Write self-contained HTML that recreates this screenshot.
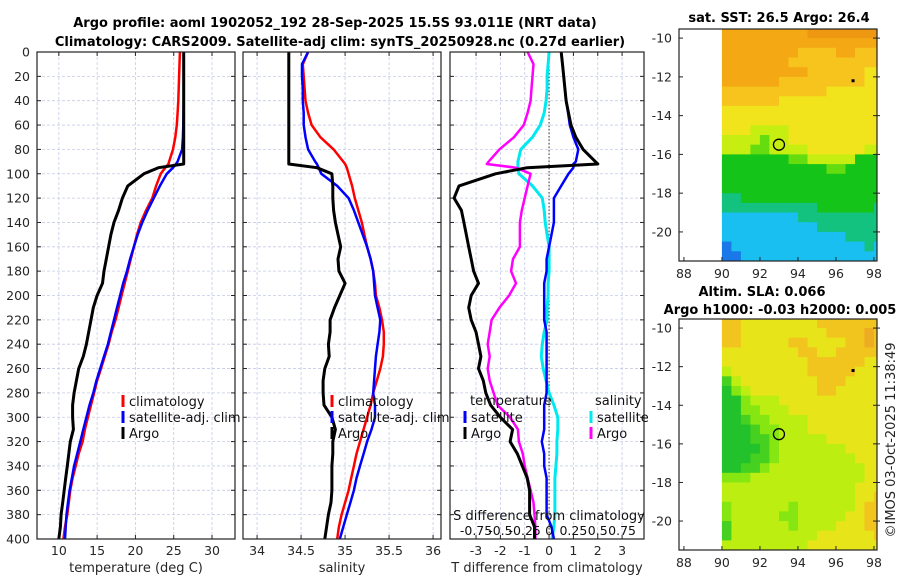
<!DOCTYPE html>
<html><head><meta charset="utf-8">
<style>
html,body{margin:0;padding:0;background:#fff;}
svg{display:block;font-family:"DejaVu Sans","Liberation Sans",sans-serif;}
</style></head>
<body>
<svg id="fig" width="900" height="580" viewBox="0 0 900 580" xmlns="http://www.w3.org/2000/svg">
<text x="335" y="27" font-size="13" font-weight="bold" text-anchor="middle" fill="#000">Argo profile: aoml 1902052_192 28-Sep-2025 15.5S 93.011E (NRT data)</text>
<text x="340" y="46" font-size="13" font-weight="bold" text-anchor="middle" fill="#000">Climatology: CARS2009. Satellite-adj clim: synTS_20250928.nc (0.27d earlier)</text>
<text x="779" y="22" font-size="13" font-weight="bold" text-anchor="middle" fill="#000">sat. SST: 26.5 Argo: 26.4</text>
<text x="762" y="296" font-size="13" font-weight="bold" text-anchor="middle" fill="#000">Altim. SLA: 0.066</text>
<text x="780" y="314" font-size="13" font-weight="bold" text-anchor="middle" fill="#000">Argo h1000: -0.03 h2000: 0.005</text>
<text x="0" y="0" font-size="13" fill="#222" text-anchor="middle" transform="translate(895,440) rotate(-90)">©IMOS 03-Oct-2025 11:38:49</text>
</svg>
<script>
// ---- profile data ----
const depths = [0,10,20,30,40,50,60,70,80,90,92,95,100,110,120,130,140,150,160,170,180,190,200,210,220,230,240,250,260,270,280,290,300,310,320,330,340,350,360,370,380,390,400];
const argoT = [26.3,26.3,26.3,26.3,26.3,26.3,26.3,26.3,26.3,26.3,26.3,23.0,21.1,19.0,18.3,17.8,17.2,16.8,16.5,16.2,15.9,15.7,15.0,14.5,14.2,13.9,13.6,13.2,12.6,12.3,12.0,11.8,11.8,11.9,11.5,11.3,11.1,10.9,10.7,10.5,10.3,10.2,10.0];
const climT = [25.8,25.75,25.7,25.65,25.6,25.5,25.4,25.2,24.9,24.4,24.3,23.9,23.3,22.7,22.2,21.4,20.7,20.2,19.8,19.4,19.0,18.6,18.2,17.8,17.4,16.9,16.5,16.0,15.5,15.0,14.6,14.2,13.8,13.4,13.1,12.6,12.2,11.8,11.5,11.3,11.1,10.8,10.6];
const satT = [26.3,26.3,26.3,26.3,26.3,26.28,26.25,26.2,26.1,25.5,25.3,24.9,24.1,23.2,22.4,21.6,20.9,20.3,19.8,19.3,18.9,18.4,18.0,17.6,17.2,16.8,16.4,15.9,15.4,14.9,14.5,14.0,13.6,13.2,12.8,12.4,12.0,11.7,11.4,11.2,11.0,10.9,10.8];
const argoS = [34.36,34.36,34.36,34.36,34.36,34.36,34.36,34.36,34.36,34.36,34.36,34.68,34.85,34.86,34.86,34.87,34.89,34.92,34.95,34.92,34.93,35.0,34.94,34.88,34.83,34.83,34.81,34.82,34.77,34.75,34.75,34.76,34.85,34.89,34.86,34.86,34.85,34.85,34.85,34.84,34.81,34.79,34.77];
const climS = [34.58,34.52,34.53,34.54,34.55,34.58,34.62,34.72,34.87,34.98,35.0,35.02,35.04,35.08,35.11,35.15,35.19,35.22,35.25,35.29,35.32,35.34,35.35,35.39,35.42,35.44,35.44,35.43,35.40,35.36,35.32,35.29,35.25,35.21,35.17,35.13,35.10,35.07,35.04,35.00,34.96,34.93,34.91];
const satS = [34.58,34.51,34.51,34.52,34.52,34.53,34.53,34.55,34.58,34.66,34.68,34.70,34.73,34.91,35.04,35.10,35.15,35.20,35.25,35.29,35.32,35.33,35.34,35.37,35.40,35.39,35.37,35.35,35.34,35.33,35.32,35.34,35.34,35.30,35.25,35.21,35.17,35.13,35.10,35.06,35.02,34.98,34.94];
const depthTicks = [0,20,40,60,80,100,120,140,160,180,200,220,240,260,280,300,320,340,360,380,400];
const tempTicks = [10,15,20,25,30];
const salTicks = [34,34.5,35,35.5,36];
const diffTicks = [-3,-2,-1,0,1,2,3];
const sDiffTickLabels = ["-0.75","-0.5","-0.25","0","0.25","0.5","0.75"];
// ---- map data (levels per 0.5deg cell, rows from -9.5 southward, cols from 90E) ----
const sstRows = ["88888888899999999","88888888888888888","88888888777788777","88888887777777777","88888888877777766","88888877777777766","77777777777666666","77777766666666666","66666666666666666","66666666666666666","66655556666666666","55554556666666666","55544555566666655","33333334455555333","33333333333443333","33333333333333333","33333333333333333","22333333333333333","22222222223333332","11111111222222222","11111111112222222","11111111111112222","01111111111111121","00111111111111111"];
const slaRows = ["77666666667777777","77666666666777787","77666667766667787","66666666776677777","66666666677777766","56666666677777666","35666666667776666","24566666667766666","22455566666666666","22445556666666666","22344555566666666","22234455566666666","22233455555666666","22223455555556666","22233455555555666","22334555555555566","44455555555555566","55555555555555666","55555555555555667","45555554555555677","45555544555556677","35555554555566677","35555555556666667","55555555566666666"];
const sstPalette = ["#1a78e8","#18bff0","#12c27e","#14c418","#64dc10","#c6ee10","#f2e41c","#f6c41c","#f4a914","#ee9812"];
const slaPalette = ["#18c030","#18c030","#22c22c","#46d020","#86e612","#bcee12","#e8e41a","#f2c41e","#eeac22","#eeac22"];
const mapLonTicks = [88,90,92,94,96,98];
const mapLatTicks = [-10,-12,-14,-16,-18,-20];
const argoLon = 93.0, argoLat = -15.5;
const dotLon = 96.9, dotLat = -12.2;

const NS="http://www.w3.org/2000/svg";
const svg=document.getElementById('fig');
function mk(tag, attrs, parent){const e=document.createElementNS(NS,tag);for(const k in attrs)e.setAttribute(k,attrs[k]);(parent||svg).appendChild(e);return e;}

const TOP=52, BOT=539;
const yD = d => TOP + d*(BOT-TOP)/400;
function xScale(x0,x1,mn,mx){return v => x0 + (v-mn)*(x1-x0)/(mx-mn);}

const panels = [
 {key:'temperature', x0:37, x1:235, mn:7.15, mx:33.0, ticks:tempTicks, labels:tempTicks.map(String), xlabel:'temperature (deg C)'},
 {key:'salinity', x0:243, x1:441, mn:33.84, mx:36.09, ticks:salTicks, labels:salTicks.map(String), xlabel:'salinity'},
 {key:'difference', x0:450, x1:644, mn:-4.07, mx:3.9, ticks:diffTicks, labels:diffTicks.map(String), xlabel:'T difference from climatology'}
];
panels.forEach((p,pi)=>{
  p.sx = xScale(p.x0,p.x1,p.mn,p.mx);
  const g=mk('g',{});
  
  
  // grid
  p.ticks.forEach(t=>{
    const l=mk('line',{x1:p.sx(t),x2:p.sx(t),y1:TOP,y2:BOT,stroke:'#c6cbe6','stroke-width':0.8,'stroke-dasharray':'3,2'},g);
    
    
  });
  depthTicks.forEach(d=>{
    const l=mk('line',{x1:p.x0,x2:p.x1,y1:yD(d),y2:yD(d),stroke:'#c6cbe6','stroke-width':0.8,'stroke-dasharray':'3,2'},g);
    
    
    const a=mk('line',{x1:p.x0,x2:p.x0+4,y1:yD(d),y2:yD(d),stroke:'#222','stroke-width':1},g);
    
    
    const b=mk('line',{x1:p.x1-4,x2:p.x1,y1:yD(d),y2:yD(d),stroke:'#222','stroke-width':1},g);
    
    
    if(pi===0){
      const t=mk('text',{x:30,y:yD(d)+4.5,'font-size':12.5,'text-anchor':'end',fill:'#262626'},g);
      t.textContent=String(d);
      
      
    }
  });
  p.ticks.forEach((t,i)=>{
    const a=mk('line',{x1:p.sx(t),x2:p.sx(t),y1:BOT-4,y2:BOT,stroke:'#222'},g);
    
    
    const b=mk('line',{x1:p.sx(t),x2:p.sx(t),y1:TOP,y2:TOP+4,stroke:'#222'},g);
    
    
    const tx=mk('text',{x:p.sx(t),y:555,'font-size':12.5,'text-anchor':'middle',fill:'#262626'},g);
    tx.textContent=p.labels[i];
    
    
  });
  const xl=mk('text',{x:(p.x0+p.x1)/2,y:572,'font-size':13,'text-anchor':'middle',fill:'#262626'},g);
  xl.textContent=p.xlabel;
  
  
  p.g=g;
});

function series(p, xs, color, w, name){
  const pts=depths.map((d,i)=>p.sx(xs[i]).toFixed(1)+','+yD(d).toFixed(1)).join(' ');
  const l=mk('polyline',{points:pts,fill:'none',stroke:color,'stroke-width':w,'stroke-linejoin':'round'},p.g);
  
  
}
// panel 1
series(panels[0], climT, '#ff0000', 2.5, 'climatology-temperature-line');
series(panels[0], satT, '#0000ff', 2.5, 'satellite-temperature-line');
series(panels[0], argoT, '#000000', 3, 'argo-temperature-line');
// panel 2
series(panels[1], climS, '#ff0000', 2.5, 'climatology-salinity-line');
series(panels[1], satS, '#0000ff', 2.5, 'satellite-salinity-line');
series(panels[1], argoS, '#000000', 3, 'argo-salinity-line');
// panel 3 differences (salinity scaled by 4 onto T axis)
const zl=mk('line',{x1:panels[2].sx(0),x2:panels[2].sx(0),y1:TOP,y2:BOT,stroke:'#333','stroke-width':1,'stroke-dasharray':'1.5,2'},panels[2].g);


series(panels[2], satS.map((v,i)=>(v-climS[i])*4), '#00e8f0', 3, 'satellite-salinity-diff-line');
series(panels[2], argoS.map((v,i)=>(v-climS[i])*4), '#ff00ff', 2.5, 'argo-salinity-diff-line');
series(panels[2], satT.map((v,i)=>v-climT[i]), '#0000ff', 2.5, 'satellite-temperature-diff-line');
series(panels[2], argoT.map((v,i)=>v-climT[i]), '#000000', 3, 'argo-temperature-diff-line');
// S diff axis text
const sdt=mk('text',{x:549,y:520,'font-size':13,'text-anchor':'middle',fill:'#111'},panels[2].g);
sdt.textContent='S difference from climatology';


diffTicks.forEach((t,i)=>{
  const e=mk('text',{x:panels[2].sx(t),y:535,'font-size':12.5,'text-anchor':'middle',fill:'#111'},panels[2].g);
  e.textContent=sDiffTickLabels[i];
  
  
});
// frames
panels.forEach(p=>{
  const r=mk('rect',{x:p.x0,y:TOP,width:p.x1-p.x0,height:BOT-TOP,fill:'none',stroke:'#222','stroke-width':1.2},p.g);
  
  
});
// legends
function legend(x,y,color,label,name){
  const m=mk('line',{x1:x,x2:x,y1:y-6,y2:y+6,stroke:color,'stroke-width':3});
  
  
  const t=mk('text',{x:x+6,y:y+5,'font-size':13,fill:'#111'});
  t.textContent=label;
  
  
}
legend(123,401,'#ff0000','climatology','legend-climatology');
legend(123,417,'#0000ff','satellite-adj. clim','legend-satellite');
legend(123,433,'#000000','Argo','legend-argo');
legend(332,401,'#ff0000','climatology','legend2-climatology');
legend(332,417,'#0000ff','satellite-adj. clim','legend2-satellite');
legend(332,433,'#000000','Argo','legend2-argo');
const lt=mk('text',{x:470,y:405,'font-size':13,fill:'#111'});
lt.textContent='temperature';


const ls=mk('text',{x:595,y:405,'font-size':13,fill:'#111'});
ls.textContent='salinity';


legend(465,417,'#0000ff','satellite','legend3-temp-satellite');
legend(465,433,'#000000','Argo','legend3-temp-argo');
legend(591,417,'#00e8f0','satellite','legend3-sal-satellite');
legend(591,433,'#ff00ff','Argo','legend3-sal-argo');

// ---- maps ----
function drawMap(top,bot,rows,palette,key){
  const X0=679,X1=877, lonMin=87.74, lonMax=98.16, latTop=-9.53, latBot=-21.5;
  const sx=v=>X0+(v-lonMin)*(X1-X0)/(lonMax-lonMin);
  const sy=v=>top+(latTop-v)*(bot-top)/(latTop-latBot);
  const g=mk('g',{});
  
  
  const cid=key+'-clip';
  const cp=mk('clipPath',{id:cid},g);
  mk('rect',{x:X0,y:top,width:X1-X0,height:bot-top},cp);
  const cg=mk('g',{'clip-path':'url(#'+cid+')'},g);
  
  
  rows.forEach((row,j)=>{
    const la=-9.5-j*0.5;
    for(let i=0;i<row.length;i++){
      const lo=90+i*0.5;
      const c=mk('rect',{x:sx(lo).toFixed(1),y:sy(la).toFixed(1),width:(sx(lo+0.5)-sx(lo)+0.6).toFixed(1),height:(sy(la-0.5)-sy(la)+0.6).toFixed(1),fill:palette[+row[i]]},cg);
      
      
    }
  });
  const circ=mk('circle',{cx:sx(argoLon),cy:sy(argoLat),r:5.5,fill:'none',stroke:'#000','stroke-width':1.3},g);
  
  
  const dot=mk('rect',{x:sx(dotLon)-1.5,y:sy(dotLat)-1.5,width:3,height:3,fill:'#000'},g);
  
  
  const fr=mk('rect',{x:X0,y:top,width:X1-X0,height:bot-top,fill:'none',stroke:'#222','stroke-width':1.2},g);
  
  
  mapLonTicks.forEach(t=>{
    const a=mk('line',{x1:sx(t),x2:sx(t),y1:bot-4,y2:bot,stroke:'#222'},g);
    
    
    const tx=mk('text',{x:sx(t),y:bot+17,'font-size':12.5,'text-anchor':'middle',fill:'#262626'},g);
    tx.textContent=String(t);
    
    
  });
  mapLatTicks.forEach(t=>{
    const a=mk('line',{x1:X0,x2:X0+4,y1:sy(t),y2:sy(t),stroke:'#222'},g);
    
    
    const b=mk('line',{x1:X1-4,x2:X1+3,y1:sy(t),y2:sy(t),stroke:'#222'},g);
    
    
    const tx=mk('text',{x:672,y:sy(t)+4.5,'font-size':12.5,'text-anchor':'end',fill:'#262626'},g);
    tx.textContent=String(t);
    
    
  });
}
drawMap(29,261,sstRows,sstPalette,'sst');
drawMap(319,550,slaRows,slaPalette,'sla');
</script>
</body></html>
